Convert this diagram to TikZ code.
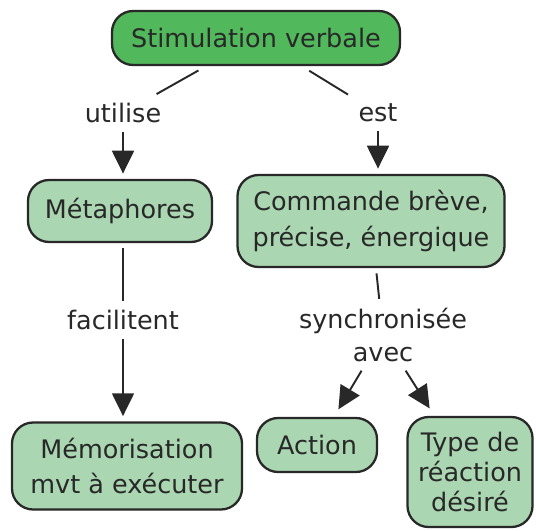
\documentclass[tikz,border=0pt]{standalone}
\usepackage{fontspec}
\setmainfont{DejaVu Sans}
\usepackage{tikz}
\usetikzlibrary{arrows.meta}
\definecolor{CmGreen}{RGB}{82,184,92}
\definecolor{CmSage}{RGB}{170,214,178}
\definecolor{CmInk}{RGB}{40,40,40}
\definecolor{CmText}{RGB}{40,40,40}

\tikzset{
  concept/.style={draw=CmInk, line width=1.3pt, rounded corners=12pt,
    fill=CmSage, text=CmText, align=center, inner sep=0pt,
    font=\fontsize{14.5}{20}\selectfont},
  rootconcept/.style={concept, fill=CmGreen},
  linkword/.style={text=CmText, align=center, inner sep=3pt,
    font=\fontsize{14.5}{19}\selectfont},
  link/.style={CmInk, line width=1.1pt},
  linkarrow/.style={link, -{Triangle[length=13pt,width=12.5pt]}}
}

\begin{document}
\begin{tikzpicture}[x=0.02cm, y=-0.02cm]
  \useasboundingbox (0,0) rectangle (536,530);

  % concepts
  \node[rootconcept, minimum width=288*0.02cm, minimum height=54*0.02cm]
    (stim) at (256,38) {Stimulation verbale};
  \node[concept, minimum width=184*0.02cm, minimum height=62*0.02cm]
    (meta) at (120,211) {Métaphores};
  \node[concept, minimum width=267*0.02cm, minimum height=92*0.02cm]
    (cmd) at (371,221) {Commande brève,\\précise, énergique};
  \node[concept, minimum width=230*0.02cm, minimum height=87*0.02cm]
    (memo) at (127,466) {Mémorisation\\mvt à exécuter};
  \node[concept, minimum width=120*0.02cm, minimum height=54*0.02cm]
    (action) at (317,445) {Action};
  \node[concept, minimum width=125*0.02cm, minimum height=110*0.02cm,
        font=\fontsize{14.5}{17}\selectfont]
    (type) at (470,472) {Type de\\réaction\\désiré};

  % linking phrases
  \node[linkword] (utilise) at (123,113) {utilise};
  \node[linkword] (est) at (378,113) {est};
  \node[linkword] (facil) at (123,320) {facilitent};
  \node[linkword] (sync) at (383,335) {synchronisée\\avec};

  % connectors (straight down where the map draws them vertical)
  \draw[link, shorten <=5pt, shorten >=4pt] (stim) -- (utilise);
  \draw[link, shorten <=5pt, shorten >=4pt] (stim) -- (est);
  \draw[linkarrow, shorten <=2pt, shorten >=3pt] (utilise) -- (utilise |- meta.north);
  \draw[linkarrow, shorten <=2pt, shorten >=3pt] (est) -- (est |- cmd.north);
  \draw[link, shorten <=3pt, shorten >=2pt] (meta.south -| facil) -- (facil);
  \draw[linkarrow, shorten <=2pt, shorten >=3pt] (facil) -- (facil |- memo.north);
  \draw[link, shorten <=3pt, shorten >=2pt] (cmd) -- (sync);
  \draw[linkarrow, shorten <=2pt, shorten >=5pt] (sync) -- (action);
  \draw[linkarrow, shorten <=2pt, shorten >=5pt] (sync) -- (type);
\end{tikzpicture}
\end{document}
